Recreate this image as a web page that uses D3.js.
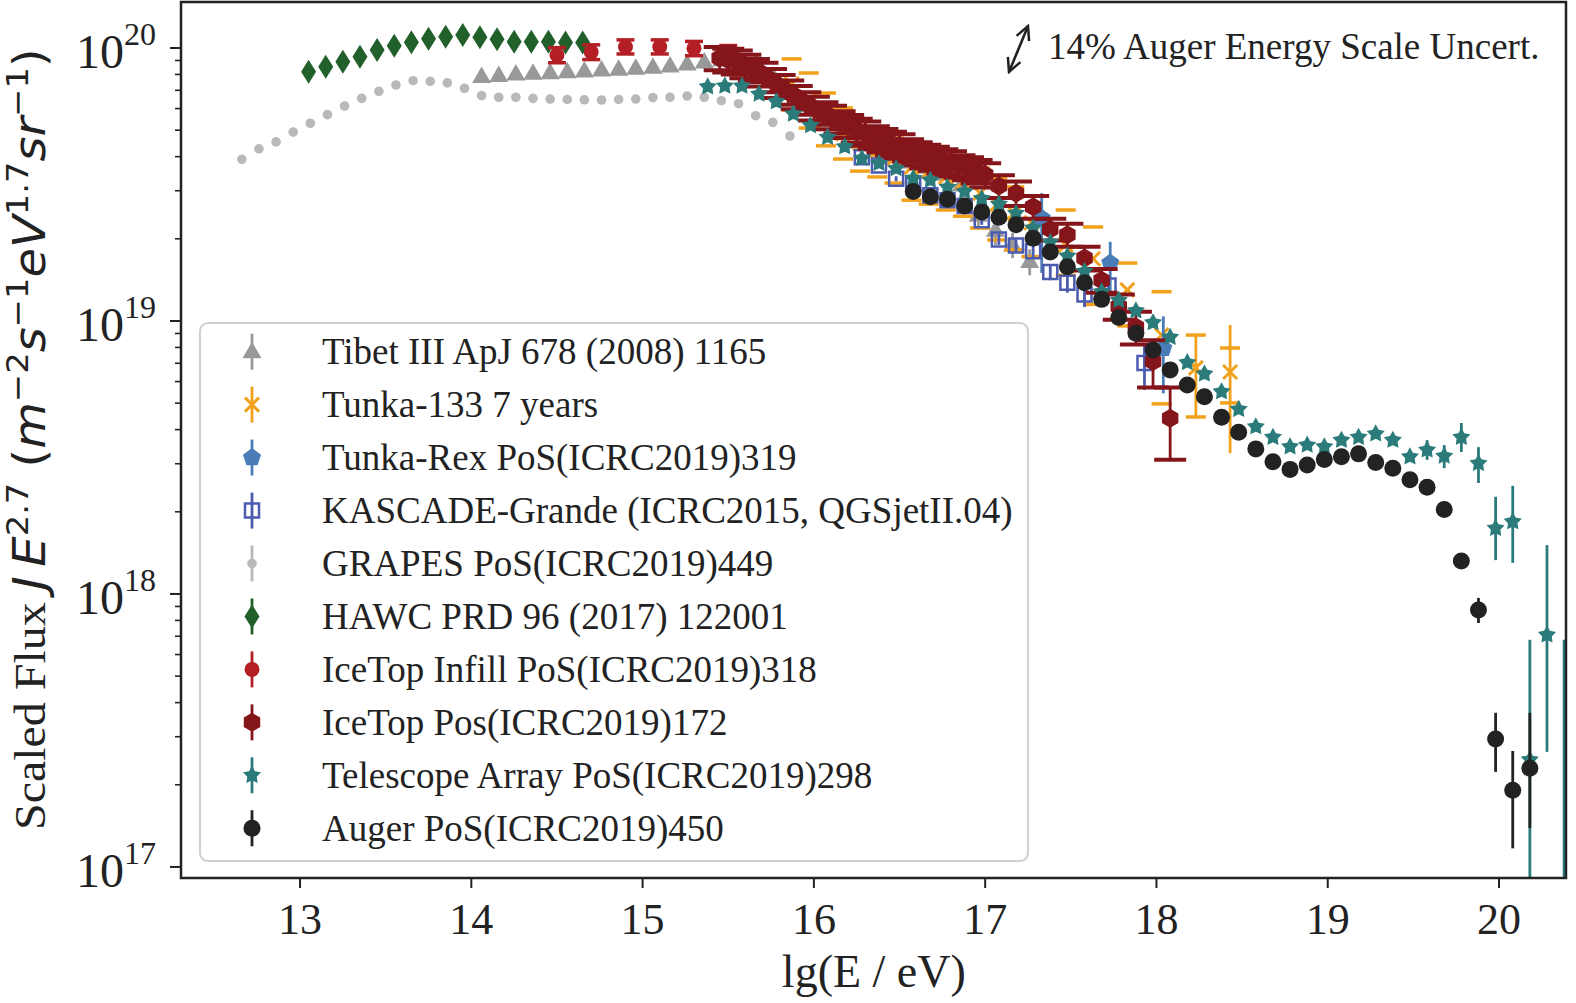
<!DOCTYPE html>
<html>
<head>
<meta charset="utf-8">
<script src="https://cdn.jsdelivr.net/npm/d3@7"></script>
<style>
  body { margin: 0; background: #fff; }
  svg { display: block; }
</style>
</head>
<body>
<div id="chart"></div>
<script>
// flux values below are in units of 1e19 (m^-2 s^-1 eV^1.7 sr^-1)
const UNIT = 1e19;

// GRAPES PoS(ICRC2019)449
const grapesE = [12.66, 12.76, 12.86, 12.96, 13.06, 13.16, 13.26, 13.36, 13.46, 13.56, 13.66, 13.76, 13.86, 13.96, 14.06, 14.16, 14.26,
  14.36, 14.46, 14.56, 14.66, 14.76, 14.86, 14.96, 15.06, 15.16, 15.26, 15.36, 15.46, 15.56, 15.66, 15.76, 15.86];
const grapesF = [3.91, 4.27, 4.53, 4.92, 5.30, 5.70, 6.13, 6.54, 6.94, 7.32, 7.59, 7.55, 7.45, 7.12, 6.69, 6.60, 6.60,
  6.54, 6.50, 6.48, 6.46, 6.45, 6.48, 6.50, 6.58, 6.60, 6.67, 6.60, 6.41, 6.25, 5.65, 5.34, 4.76];

// HAWC PRD 96 (2017) 122001
const hawcE = [13.05, 13.15, 13.25, 13.35, 13.45, 13.55, 13.65, 13.75, 13.85, 13.95, 14.05, 14.15, 14.25, 14.35, 14.45, 14.55, 14.65];
const hawcF = [8.19, 8.54, 8.91, 9.29, 9.83, 10.2, 10.5, 10.8, 11.0, 11.16, 10.94, 10.76, 10.54, 10.54, 10.54, 10.48, 10.48];

// Tibet III
const tibetE = [14.06, 14.16, 14.26, 14.36, 14.46, 14.56, 14.66, 14.76, 14.86, 14.96, 15.06, 15.16, 15.26, 15.36, 15.46, 15.56, 15.66,
  15.76, 15.86, 15.96, 16.06, 16.16, 16.26, 16.36, 16.46, 16.56, 16.66, 16.76, 16.86, 16.96, 17.06, 17.16, 17.26];
const tibetF = [7.86, 7.93, 8.03, 8.08, 8.12, 8.19, 8.24, 8.31, 8.36, 8.43, 8.50, 8.59, 8.74, 8.89, 9.04, 9.19, 8.81,
  7.90, 7.02, 6.18, 5.45, 4.92, 4.52, 4.23, 4.02, 3.82, 3.66, 3.45, 3.15, 2.44, 2.15, 1.90, 1.65];
const tibetErr = [0.05, 0.05, 0.05, 0.05, 0.05, 0.05, 0.05, 0.05, 0.05, 0.05, 0.05, 0.05, 0.05, 0.05, 0.05, 0.05, 0.05,
  0.05, 0.05, 0.05, 0.05, 0.05, 0.05, 0.05, 0.05, 0.06, 0.08, 0.10, 0.15, 0.25, 0.25, 0.20, 0.18];

// Tunka-133 7 years (stat error lines, systematic caps)
const tunkaE = [15.87, 15.97, 16.07, 16.17, 16.27, 16.37, 16.47, 16.57, 16.67, 16.77, 16.87, 16.97, 17.07, 17.17, 17.27,
  17.47, 17.63, 17.83, 18.03, 18.23, 18.43];
const tunkaF = [7.38, 6.45, 5.45, 4.84, 4.45, 4.20, 3.95, 3.66, 3.54, 3.37, 3.23, 2.94, 2.68, 2.49, 2.29,
  1.90, 1.69, 1.30, 0.888, 0.673, 0.650];
const tunkaSysHi = [9.12, 8.10, 6.84, 6.03, 5.45, 5.14, 4.80, 4.52, 4.30, 4.12, 3.95, 3.63, 3.34, 3.10, 2.87,
  2.55, 2.21, 1.63, 1.28, 0.888, 0.796];
const tunkaSysLo = [5.93, 5.09, 4.38, 3.92, 3.54, 3.37, 3.20, 2.77, 2.68, 2.55, 2.42, 2.19, 1.98, 1.82, 1.72,
  1.47, 1.15, 0.959, 0.497, 0.445, 0.501];
const tunkaStatHi = [null, null, null, null, null, null, null, null, null, null, null, null, null, null, null,
  null, null, null, null, 0.888, 0.967];
const tunkaStatLo = [null, null, null, null, null, null, null, null, null, null, null, null, null, null, null,
  null, null, null, null, 0.445, 0.328];

// Tunka-Rex PoS(ICRC2019)319
const rexE = [17.33, 17.73, 18.04];
const rexF = [2.38, 1.63, 0.794];
const rexLo = [1.50, 1.245, 0.543];
const rexHi = [2.94, 1.95, 1.04];

// KASCADE-Grande (ICRC2015, QGSjetII.04)
const kgE = [16.28, 16.38, 16.48, 16.58, 16.68, 16.78, 16.88, 16.98, 17.08, 17.18, 17.28, 17.38, 17.48, 17.58, 17.72, 17.93];
const kgF = [3.98, 3.71, 3.32, 3.19, 2.89, 2.77, 2.64, 2.34, 1.99, 1.89, 1.80, 1.51, 1.38, 1.25, 1.35, 0.702];
const kgLo = [3.90, 3.63, 3.25, 3.12, 2.82, 2.70, 2.56, 2.25, 1.90, 1.79, 1.70, 1.41, 1.27, 1.125, 1.245, 0.559];
const kgHi = [4.06, 3.79, 3.39, 3.26, 2.96, 2.84, 2.72, 2.43, 2.08, 1.99, 1.90, 1.61, 1.49, 1.41, 1.449, 0.831];

// IceTop Infill PoS(ICRC2019)318
const infillE = [14.5, 14.7, 14.9, 15.1, 15.3, 15.5];
const infillF = [9.43, 9.67, 10.11, 10.11, 9.97, 9.61];
const infillErr = [0.6, 0.6, 0.6, 0.6, 0.6, 0.6];

// IceTop PoS(ICRC2019)172
const icetopE = [15.45, 15.50, 15.55, 15.60, 15.65, 15.70, 15.75, 15.80, 15.85, 15.90, 15.95, 16.00, 16.05, 16.10, 16.15, 16.20,
  16.25, 16.30, 16.35, 16.40, 16.45, 16.50, 16.55, 16.60, 16.65, 16.70, 16.75, 16.80, 16.85, 16.90, 16.95, 17.00,
  17.08, 17.18, 17.28, 17.38, 17.48, 17.58, 17.68, 17.78, 17.88, 17.98, 18.08];
const icetopF = [9.19, 9.04, 8.89, 8.59, 8.31, 8.03, 7.63, 7.26, 6.90, 6.61, 6.29, 6.03, 5.78, 5.59, 5.36, 5.18,
  5.01, 4.88, 4.72, 4.60, 4.48, 4.38, 4.23, 4.12, 4.02, 3.95, 3.86, 3.79, 3.70, 3.63, 3.54, 3.43,
  3.12, 2.94, 2.62, 2.17, 2.07, 1.70, 1.41, 1.13, 0.95, 0.71, 0.44];
const icetopErr = [0.9, 0.9, 0.9, 0.85, 0.8, 0.8, 0.75, 0.7, 0.7, 0.65, 0.6, 0.6, 0.55, 0.55, 0.5, 0.5,
  0.5, 0.5, 0.45, 0.45, 0.45, 0.45, 0.4, 0.4, 0.4, 0.4, 0.4, 0.4, 0.35, 0.35, 0.35, 0.35,
  0.3, 0.3, 0.25, 0.2, 0.2, 0.17, 0.14, 0.12, 0.13, 0.14, 0.13];

// Telescope Array PoS(ICRC2019)298
const taE = [15.38, 15.48, 15.58, 15.68, 15.78, 15.88, 15.98, 16.08, 16.18, 16.28, 16.38, 16.48, 16.58, 16.68, 16.78, 16.88, 16.98,
  17.08, 17.18, 17.28, 17.38, 17.48, 17.58, 17.68, 17.78, 17.88, 17.98, 18.08, 18.18, 18.28, 18.38, 18.48, 18.58, 18.68,
  18.78, 18.88, 18.98, 19.08, 19.18, 19.28, 19.38, 19.48, 19.58, 19.68, 19.78, 19.88, 19.98, 20.08, 20.18, 20.28, 20.38];
const taF = [7.21, 7.26, 7.26, 6.78, 6.36, 5.73, 5.20, 4.71, 4.35, 3.94, 3.78, 3.62, 3.33, 3.28, 3.09, 2.98, 2.81,
  2.68, 2.48, 2.19, 1.94, 1.73, 1.52, 1.28, 1.19, 1.09, 0.986, 0.872, 0.704, 0.640, 0.551, 0.475, 0.410, 0.375,
  0.346, 0.351, 0.346, 0.366, 0.375, 0.386, 0.366, 0.318, 0.337, 0.320, 0.375, 0.301, 0.174, 0.184, 0.0247, 0.0708, 0.0076];
const taLo = [null, null, null, null, null, null, null, null, null, null, null, null, null, null, null, null, null,
  null, null, null, null, null, null, null, null, null, null, null, null, null, null, null, null, null,
  null, null, null, null, null, null, null, null, 0.310, 0.289, 0.331, 0.255, 0.133, 0.130, 0.001, 0.0264, 0.001];
const taHi = [null, null, null, null, null, null, null, null, null, null, null, null, null, null, null, null, null,
  null, null, null, null, null, null, null, null, null, null, null, null, null, null, null, null, null,
  null, null, null, null, null, null, null, null, 0.366, 0.351, 0.423, 0.345, 0.227, 0.249, 0.0679, 0.151, 0.0679];

// Auger PoS(ICRC2019)450
const augerE = [16.58, 16.68, 16.78, 16.88, 16.98, 17.08, 17.18, 17.28, 17.38, 17.48, 17.58, 17.68, 17.78, 17.88, 17.98, 18.08,
  18.18, 18.28, 18.38, 18.48, 18.58, 18.68, 18.78, 18.88, 18.98, 19.08, 19.18, 19.28, 19.38, 19.48, 19.58, 19.68,
  19.78, 19.88, 19.98, 20.08, 20.18];
const augerF = [2.98, 2.85, 2.79, 2.64, 2.51, 2.40, 2.25, 2.01, 1.79, 1.58, 1.38, 1.20, 1.03, 0.901, 0.783, 0.662,
  0.583, 0.528, 0.444, 0.391, 0.340, 0.305, 0.286, 0.297, 0.311, 0.318, 0.326, 0.303, 0.289, 0.262, 0.246, 0.204,
  0.132, 0.0874, 0.0294, 0.0191, 0.0230];
const augerLo = [null, null, null, null, null, null, null, null, null, null, null, null, null, null, null, null,
  null, null, null, null, null, null, null, null, null, null, null, null, null, null, null, null,
  null, 0.0783, 0.0223, 0.0117, 0.0139];
const augerHi = [null, null, null, null, null, null, null, null, null, null, null, null, null, null, null, null,
  null, null, null, null, null, null, null, null, null, null, null, null, null, null, null, null,
  null, 0.0967, 0.0367, 0.0266, 0.0367];

const xTicks = [13, 14, 15, 16, 17, 18, 19, 20];
const yDecades = [17, 18, 19, 20];
const legendLabels = [
  "Tibet III ApJ 678 (2008) 1165",
  "Tunka-133 7 years",
  "Tunka-Rex PoS(ICRC2019)319",
  "KASCADE-Grande (ICRC2015, QGSjetII.04)",
  "GRAPES PoS(ICRC2019)449",
  "HAWC PRD 96 (2017) 122001",
  "IceTop Infill PoS(ICRC2019)318",
  "IceTop Pos(ICRC2019)172",
  "Telescope Array PoS(ICRC2019)298",
  "Auger PoS(ICRC2019)450"
];
const noteText = "14% Auger Energy Scale Uncert.";

// ---------------------------------------------------------------
const W = 1576, H = 1003;
const box = { left: 181, right: 1566, top: 2, bottom: 878 };
const serif = "'Liberation Serif', 'Times New Roman', serif";
const ink = "#222";

const svg = d3.select("#chart").append("svg")
  .attr("width", W).attr("height", H);

const x = d3.scaleLinear().domain([12.305, 20.391]).range([box.left, box.right]);
const y = d3.scaleLog().domain([9.11e16, 1.474e20]).range([box.bottom, box.top]);

const defs = svg.append("defs");
defs.append("clipPath").attr("id", "clip")
  .append("rect")
  .attr("x", box.left).attr("y", box.top)
  .attr("width", box.right - box.left).attr("height", box.bottom - box.top);

// marker shapes
const poly = (n, r, rot) => "M" + d3.range(n).map(k => {
  const a = rot + k * 2 * Math.PI / n;
  return [r * Math.cos(a), r * Math.sin(a)].map(v => v.toFixed(2)).join(",");
}).join("L") + "Z";
const starPath = (ro, ri) => "M" + d3.range(10).map(k => {
  const r = k % 2 ? ri : ro, a = -Math.PI / 2 + k * Math.PI / 5;
  return [r * Math.cos(a), r * Math.sin(a)].map(v => v.toFixed(2)).join(",");
}).join("L") + "Z";
const circ = r => `M${-r},0A${r},${r} 0 1,0 ${r},0A${r},${r} 0 1,0 ${-r},0Z`;

const shapes = {
  tri: { d: "M0,-10L9.5,6.5L-9.5,6.5Z", fill: true },
  cross: { d: "M-7,-7L7,7M-7,7L7,-7", fill: false, sw: 3 },
  pent: { d: poly(5, 9.5, -Math.PI / 2), fill: true },
  square: { d: "M-7,-7H7V7H-7Z", fill: false, sw: 2.5 },
  dot: { d: circ(4.8), fill: true },
  diamond: { d: "M0,-12L7.5,0L0,12L-7.5,0Z", fill: true },
  circle: { d: circ(7.5), fill: true },
  hex: { d: poly(6, 9.5, -Math.PI / 2), fill: true },
  star: { d: starPath(9.5, 5), fill: true },
  big: { d: circ(8.5), fill: true }
};

const toPts = (E, F, lo, hi, clo, chi) => E.map((e, i) => ({
  e, f: F[i] * UNIT,
  lo: lo && lo[i] != null ? lo[i] * UNIT : null,
  hi: hi && hi[i] != null ? hi[i] * UNIT : null,
  clo: clo && clo[i] != null ? clo[i] * UNIT : null,
  chi: chi && chi[i] != null ? chi[i] * UNIT : null
}));
const minus = (F, err) => F.map((f, i) => f - err[i]);
const plus = (F, err) => F.map((f, i) => f + err[i]);

// series in legend (and drawing) order
const series = [
  { color: "#999999", shape: "tri", pts: toPts(tibetE, tibetF, minus(tibetF, tibetErr), plus(tibetF, tibetErr)) },
  { color: "#f2a11c", shape: "cross", capW: 10, capSw: 3.5,
    pts: toPts(tunkaE, tunkaF, tunkaStatLo, tunkaStatHi, tunkaSysLo, tunkaSysHi) },
  { color: "#4a7db8", shape: "pent", pts: toPts(rexE, rexF, rexLo, rexHi) },
  { color: "#4b5bb0", shape: "square", pts: toPts(kgE, kgF, kgLo, kgHi) },
  { color: "#b9b9b9", shape: "dot", pts: toPts(grapesE, grapesF) },
  { color: "#21602a", shape: "diamond", pts: toPts(hawcE, hawcF) },
  { color: "#b31f25", shape: "circle", capW: 9, capSw: 3.5,
    pts: toPts(infillE, infillF, minus(infillF, infillErr), plus(infillF, infillErr),
      minus(infillF, infillErr), plus(infillF, infillErr)) },
  { color: "#84161b", shape: "hex", capW: 16, capSw: 4,
    pts: toPts(icetopE, icetopF, minus(icetopF, icetopErr), plus(icetopF, icetopErr),
      minus(icetopF, icetopErr), plus(icetopF, icetopErr)) },
  { color: "#2b7b7b", shape: "star", pts: toPts(taE, taF, taLo, taHi) },
  { color: "#222222", shape: "big", pts: toPts(augerE, augerF, augerLo, augerHi) }
];

const dataG = svg.append("g").attr("clip-path", "url(#clip)");

function styleMarker(sel, s) {
  const sh = shapes[s.shape];
  sel.attr("d", sh.d)
    .attr("fill", sh.fill ? s.color : "none")
    .attr("stroke", sh.fill ? "none" : s.color)
    .attr("stroke-width", sh.sw || 0);
}

series.forEach(s => {
  const g = dataG.append("g");
  g.selectAll("line.err")
    .data(s.pts.filter(p => p.lo != null && p.hi != null))
    .join("line")
    .attr("x1", p => x(p.e)).attr("x2", p => x(p.e))
    .attr("y1", p => y(p.lo)).attr("y2", p => y(p.hi))
    .attr("stroke", s.color).attr("stroke-width", 2.8);
  if (s.capW) {
    const caps = [];
    s.pts.forEach(p => {
      if (p.clo != null) caps.push({ e: p.e, v: p.clo });
      if (p.chi != null) caps.push({ e: p.e, v: p.chi });
    });
    g.selectAll("line.cap").data(caps).join("line")
      .attr("x1", c => x(c.e) - s.capW).attr("x2", c => x(c.e) + s.capW)
      .attr("y1", c => y(c.v)).attr("y2", c => y(c.v))
      .attr("stroke", s.color).attr("stroke-width", s.capSw);
  }
  g.selectAll("path.mk").data(s.pts).join("path")
    .attr("transform", p => `translate(${x(p.e)},${y(p.f)})`)
    .call(styleMarker, s);
});

// frame
svg.append("rect")
  .attr("x", box.left).attr("y", box.top)
  .attr("width", box.right - box.left).attr("height", box.bottom - box.top)
  .attr("fill", "none").attr("stroke", ink).attr("stroke-width", 2.5);

// x axis
const xAxis = svg.append("g");
xAxis.selectAll("line").data(xTicks).join("line")
  .attr("x1", d => x(d)).attr("x2", d => x(d))
  .attr("y1", box.bottom).attr("y2", box.bottom + 10)
  .attr("stroke", ink).attr("stroke-width", 2);
xAxis.selectAll("text").data(xTicks).join("text")
  .attr("x", d => x(d)).attr("y", 934)
  .attr("text-anchor", "middle")
  .style("font-family", serif).style("font-size", "44px").attr("fill", ink)
  .text(d => d);
svg.append("text")
  .attr("x", x(16.35)).attr("y", 987)
  .attr("text-anchor", "middle")
  .style("font-family", serif).style("font-size", "46px").attr("fill", ink)
  .text("lg(E / eV)");

// y axis (log): major and minor ticks
const minor = [];
yDecades.concat([16]).forEach(dec => {
  for (let m = 2; m <= 9; m++) {
    const v = m * Math.pow(10, dec);
    if (v > y.domain()[0] && v < y.domain()[1]) minor.push(v);
  }
});
const yAxis = svg.append("g");
yAxis.selectAll("line.minor").data(minor).join("line")
  .attr("x1", box.left - 6).attr("x2", box.left)
  .attr("y1", d => y(d)).attr("y2", d => y(d))
  .attr("stroke", ink).attr("stroke-width", 1.6);
yAxis.selectAll("line.major").data(yDecades).join("line")
  .attr("x1", box.left - 11).attr("x2", box.left)
  .attr("y1", d => y(Math.pow(10, d))).attr("y2", d => y(Math.pow(10, d)))
  .attr("stroke", ink).attr("stroke-width", 2);
const yl = yAxis.selectAll("text").data(yDecades).join("text")
  .attr("x", 156).attr("y", d => y(Math.pow(10, d)) + 20)
  .attr("text-anchor", "end")
  .style("font-family", serif).style("font-size", "48px").attr("fill", ink);
yl.append("tspan").text("10");
yl.append("tspan").attr("dy", -23).style("font-size", "32px").text(d => d);

// y label
const yLab = svg.append("g").attr("transform", "translate(45,830) rotate(-90)")
  .append("text")
  .style("font-size", "44px").attr("fill", ink);
const math = "'DejaVu Sans', sans-serif";
const parts = [
  { t: "Scaled Flux ", f: serif },
  { t: "J", f: math, it: true },
  { t: "\u2009E", f: math, it: true },
  { t: "2.7", f: math, sup: true },
  { t: " (", f: math },
  { t: "m", f: math, it: true },
  { t: "\u22122", f: math, sup: true },
  { t: "s", f: math, it: true },
  { t: "\u22121", f: math, sup: true },
  { t: "eV", f: math, it: true },
  { t: "1.7", f: math, sup: true },
  { t: "sr", f: math, it: true },
  { t: "\u22121", f: math, sup: true },
  { t: ")", f: math }
];
let raised = false;
parts.forEach(p => {
  const ts = yLab.append("tspan").style("font-family", p.f).text(p.t);
  if (p.it) ts.style("font-style", "italic");
  if (p.sup) {
    ts.style("font-size", "31px").attr("dy", raised ? 0 : -17);
    raised = true;
  } else if (raised) {
    ts.attr("dy", 17);
    raised = false;
  }
});
const labLen = yLab.node().getComputedTextLength();
yLab.attr("transform", `scale(${782 / labLen},1)`);

// annotation: double arrow + text
defs.append("marker").attr("id", "head")
  .attr("viewBox", "0 0 10 10").attr("refX", 9).attr("refY", 5)
  .attr("markerWidth", 6.5).attr("markerHeight", 6.5).attr("orient", "auto-start-reverse")
  .append("path").attr("d", "M1,1L9,5L1,9").attr("fill", "none")
  .attr("stroke", ink).attr("stroke-width", 1.5);
svg.append("line")
  .attr("x1", 1009).attr("y1", 72).attr("x2", 1028).attr("y2", 26)
  .attr("stroke", ink).attr("stroke-width", 2.6)
  .attr("marker-start", "url(#head)").attr("marker-end", "url(#head)");
svg.append("text")
  .attr("x", 1048).attr("y", 59)
  .style("font-family", serif).style("font-size", "37px").attr("fill", ink)
  .text(noteText);

// legend
const lg = svg.append("g");
lg.append("rect")
  .attr("x", 200).attr("y", 323).attr("width", 828).attr("height", 538)
  .attr("rx", 8).attr("fill", "#fff").attr("fill-opacity", 0.8)
  .attr("stroke", "#d2d2d2").attr("stroke-width", 2.2);
const row = lg.selectAll("g.row").data(series).join("g")
  .attr("transform", (d, i) => `translate(252,${351.7 + i * 52.95})`);
row.append("line")
  .attr("y1", -18).attr("y2", 18)
  .attr("stroke", d => d.color).attr("stroke-width", 2.8);
row.append("path").each(function (d) { d3.select(this).call(styleMarker, d); });
row.append("text")
  .attr("x", 70).attr("y", 12.5)
  .style("font-family", serif).style("font-size", "37px").attr("fill", ink)
  .text((d, i) => legendLabels[i]);
</script>
</body>
</html>
